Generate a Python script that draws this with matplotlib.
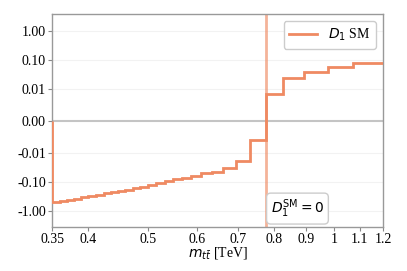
import matplotlib
matplotlib.use("Agg")
from matplotlib import pyplot as plt

plt.rcParams['font.family'] = 'serif'
plt.rcParams['font.serif'] = ['Liberation Serif', 'DejaVu Serif']
plt.rcParams['mathtext.fontset'] = 'dejavusans'

# bin edges in m_tt [TeV] and D1 SM values per bin
edges = [0.35, 0.36, 0.37, 0.38, 0.39, 0.40, 0.412, 0.424, 0.436, 0.448, 0.46,
         0.473, 0.486, 0.5, 0.5155, 0.533, 0.5497, 0.567, 0.5865, 0.6088, 0.634,
         0.662, 0.694, 0.7315, 0.776, 0.828, 0.895, 0.979, 1.072, 1.25]
d1_sm = [-0.493, -0.445, -0.405, -0.368, -0.334, -0.301, -0.272, -0.245, -0.221,
         -0.201, -0.183, -0.165, -0.150, -0.130, -0.108, -0.0946, -0.0807, -0.0689,
         -0.0606, -0.050, -0.0428, -0.0311, -0.0181, -0.0058, 0.0086, 0.0245,
         0.0395, 0.0587, 0.077]
d1_zero = 0.776

x_ticks = [0.35, 0.4, 0.5, 0.6, 0.7, 0.8, 0.9, 1.0, 1.1, 1.2]
x_labels = ['0.35', '0.4', '0.5', '0.6', '0.7', '0.8', '0.9', '1', '1.1', '1.2']
y_ticks = [-1, -0.1, -0.01, 0, 0.01, 0.1, 1]
y_labels = ['-1.00', '-0.10', '-0.01', '0.00', '0.01', '0.10', '1.00']

color = '#ef8a62'

fig = plt.figure(figsize=(4.07, 2.71), dpi=100)
ax = fig.add_axes([0.128, 0.163, 0.813, 0.785])

ax.axhline(0, color='#c4c4c4', lw=1.5, zorder=1)
ax.stairs(d1_sm, edges, baseline=0, color=color, lw=2, label='$D_1$ SM', zorder=3)
ax.axvline(d1_zero, color=color, lw=2, alpha=0.65, zorder=2)

ax.set_xscale('log')
ax.set_yscale('symlog', linthresh=0.01, linscale=1)
ax.set_xlim(0.35, 1.2)
ax.set_ylim(-3.5, 3.9)

ax.set_xticks(x_ticks)
ax.set_xticklabels(x_labels)
ax.xaxis.set_minor_locator(matplotlib.ticker.NullLocator())
ax.set_yticks(y_ticks)
ax.set_yticklabels(y_labels)
ax.yaxis.set_minor_locator(matplotlib.ticker.NullLocator())
ax.tick_params(labelsize=10, color='#888888', length=3, width=0.8, pad=1.5)

for y in y_ticks:
    if y != 0:
        ax.axhline(y, color='#f2f2f2', lw=0.8, zorder=0)

for s in ax.spines.values():
    s.set_color('#999999')
    s.set_linewidth(1.0)

ax.set_xlabel('$m_{t\\bar{t}}$ [TeV]', fontsize=10, labelpad=-1)

ax.annotate('$D_1^{\\rm SM} = 0$', xy=(d1_zero, 0), xycoords=ax.get_xaxis_transform(),
            xytext=(3.5, 5), textcoords='offset points',
            ha='left', va='bottom', fontsize=10,
            bbox=dict(boxstyle='round,pad=0.3', fc='white', ec='#cccccc'))

leg = ax.legend(loc='upper right', fontsize=10, fancybox=True, framealpha=1,
                edgecolor='#cccccc', borderaxespad=0.5)

plt.savefig('out.png', dpi=100)
